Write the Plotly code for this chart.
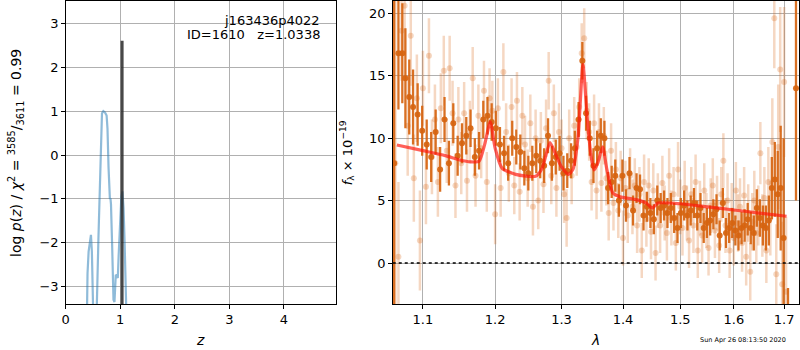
import numpy as np
import plotly.graph_objects as go

# ---------------- left panel: p(z) ----------------
pz_z = [0.38, 0.389, 0.40, 0.42, 0.445, 0.463, 0.48, 0.50, 0.511, 0.52,
        0.565, 0.571, 0.60, 0.63, 0.65, 0.665, 0.69, 0.72, 0.75, 0.766, 0.785, 0.797,
        0.81, 0.82, 0.83, 0.85, 0.876, 0.894, 0.905, 0.918, 0.935, 0.955, 0.97,
        1.00, 1.02, 1.04, 1.06, 1.08, 1.10, 1.12, 1.13]
pz_logp = [-4.5, -3.39, -2.7, -2.2, -1.95, -1.82, -2.2, -3.0, -3.39, -4.5,
           -4.5, -3.4, -1.9, -0.4, 0.6, 0.95, 1.0, 0.97, 0.9, 0.6, -0.27, -0.95,
           -1.0, -0.98, -1.12, -2.0, -3.3, -3.35, -3.1, -2.73, -2.75, -2.8, -2.3,
           -1.3, -0.95, -0.83, -1.2, -2.0, -3.0, -3.39, -4.5]
z_best = 1.0338
z_best_top = 2.6

# ---------------- right panel: spectrum ----------------
wave_a = [1.0625, 1.066, 1.068, 1.070, 1.073, 1.075, 1.077, 1.080, 1.082, 1.084, 1.087, 1.090,
          1.093, 1.096, 1.099, 1.102, 1.105, 1.108, 1.111, 1.114, 1.117, 1.120, 1.123, 1.126,
          1.129, 1.132, 1.135, 1.138, 1.141, 1.144, 1.147, 1.150, 1.153, 1.156, 1.159, 1.162,
          1.165, 1.168, 1.171, 1.174, 1.177, 1.180, 1.183, 1.186, 1.189, 1.192, 1.195, 1.198,
          1.201, 1.204, 1.207, 1.210, 1.213, 1.216, 1.219, 1.222, 1.225, 1.228, 1.231, 1.234,
          1.237, 1.240, 1.243, 1.246, 1.249, 1.252, 1.255, 1.258, 1.261, 1.264, 1.267, 1.270,
          1.273, 1.276, 1.279, 1.282, 1.285, 1.288, 1.291, 1.294, 1.297, 1.300, 1.303, 1.306,
          1.309, 1.312, 1.315, 1.318, 1.321, 1.324, 1.327, 1.330, 1.333, 1.336, 1.339, 1.342,
          1.345, 1.348, 1.351, 1.354, 1.357, 1.360, 1.363, 1.366, 1.369, 1.372, 1.375, 1.378,
          1.381, 1.384, 1.387, 1.390, 1.393, 1.396, 1.399, 1.402, 1.405, 1.408, 1.411, 1.414,
          1.417, 1.420, 1.423, 1.426, 1.429, 1.432, 1.435, 1.438, 1.441, 1.444, 1.447, 1.450,
          1.453, 1.456, 1.459, 1.462, 1.465, 1.468, 1.471, 1.474, 1.477, 1.480, 1.483, 1.486,
          1.489, 1.492, 1.495, 1.498, 1.501, 1.504, 1.507, 1.510, 1.513, 1.516, 1.519, 1.522,
          1.525, 1.528, 1.531, 1.534, 1.537, 1.540, 1.543, 1.546, 1.549, 1.552, 1.555, 1.558,
          1.561, 1.564, 1.567, 1.570, 1.573, 1.576, 1.579, 1.582, 1.585, 1.588, 1.591, 1.594,
          1.597, 1.600, 1.603, 1.606, 1.609, 1.612, 1.615, 1.618, 1.621, 1.624, 1.627, 1.630,
          1.633, 1.636, 1.639, 1.642, 1.645, 1.648, 1.651, 1.654, 1.657, 1.660, 1.663, 1.666,
          1.669, 1.672, 1.675, 1.678, 1.681, 1.684, 1.687, 1.690, 1.693, 1.696, 1.699, 1.705,
          1.708, 1.7245]
flux_a = [8.0, 0.9, 16.8, 13.9, 16.8, 12.7, 14.8, 13.1, 13.3, 7.7, 12.5, 10.8,
          11.9, 8.0, 10.6, 12.0, 9.5, 7.8, 8.5, 11.8, 10.5, 9.0, 7.5, 9.8,
          11.5, 10.0, 8.0, 9.5, 11.2, 10.0, 8.6, 10.8, 9.6, 11.0, 10.2, 9.0,
          10.8, 9.8, 8.5, 10.2, 9.0, 10.5, 11.5, 10.2, 11.8, 10.5, 11.3, 9.5,
          10.8, 8.2, 9.5, 10.2, 8.8, 9.8, 8.0, 9.2, 10.0, 8.5, 9.3, 7.8,
          8.9, 9.5, 7.6, 8.5, 7.2, 8.8, 8.0, 7.4, 8.6, 7.0, 8.2, 9.0,
          7.8, 9.5, 10.2, 9.0, 8.0, 9.6, 8.5, 7.6, 8.8, 8.2, 7.2, 8.0,
          7.4, 6.8, 8.2, 7.5, 9.2, 8.2, 11.5, 13.5, 16.2, 14.0, 12.0, 11.3,
          10.0, 8.8, 7.8, 8.5, 9.2, 8.6, 10.2, 9.5, 10.0, 8.0, 6.0, 7.2,
          6.5, 5.5, 7.0, 6.2, 5.0, 6.5, 7.0, 5.8, 4.6, 6.2, 7.2, 5.5,
          4.2, 5.6, 6.0, 4.6, 5.9, 4.8, 3.8, 5.2, 4.5, 5.5, 4.0, 4.8,
          3.5, 4.6, 5.0, 3.8, 4.4, 3.2, 4.6, 5.4, 4.0, 3.0, 4.4, 5.0,
          3.6, 4.2, 2.8, 4.8, 4.0, 3.3, 4.6, 5.2, 3.8, 2.6, 4.2, 3.4,
          4.8, 3.0, 3.8, 2.4, 4.4, 3.6, 2.8, 4.0, 3.2, 4.6, 3.4, 2.6,
          3.9, 3.0, 4.3, 3.3, 2.2, 3.6, 4.8, 3.0, 2.4, 3.8, 2.8, 1.8,
          3.2, 4.0, 2.6, 3.4, 2.2, 3.6, 2.8, 4.2, 3.0, 2.0, 3.5, 1.5,
          2.8, 3.8, 2.4, 3.2, 4.4, 2.6, 3.6, 5.6, 3.0, 4.0, 2.8, 4.6,
          3.4, 2.5, 6.0, 3.5, 6.7, 2.0, 5.5, 1.0, 6.0, 3.0, 2.0, 0.8,
          -6.0, 14.0]
err_a = [30.0, 5.3, 4.5, 5.0, 4.0, 3.5, 4.0, 3.5, 3.0, 3.5, 3.0, 2.5,
         2.5, 2.5, 2.0, 2.0, 2.0, 2.0, 2.0, 2.0, 1.8, 2.0, 1.8, 1.8,
         1.8, 1.8, 1.8, 1.6, 1.6, 1.6, 1.6, 1.6, 1.6, 1.5, 1.5, 1.5,
         1.5, 1.5, 1.5, 1.5, 1.5, 1.5, 1.5, 1.5, 1.5, 1.5, 1.5, 1.5,
         1.4, 1.4, 1.4, 1.4, 1.4, 1.4, 1.4, 1.4, 1.4, 1.4, 1.4, 1.4,
         1.4, 1.4, 1.4, 1.4, 1.4, 1.4, 1.4, 1.4, 1.4, 1.4, 1.4, 1.4,
         1.4, 1.4, 1.4, 1.4, 1.4, 1.4, 1.4, 1.4, 1.4, 1.4, 1.4, 1.4,
         1.4, 1.4, 1.4, 1.4, 1.4, 1.4, 1.4, 1.5, 1.5, 1.5, 1.4, 1.4,
         1.4, 1.4, 1.4, 1.4, 1.4, 1.4, 1.4, 1.4, 1.4, 1.3, 1.3, 1.3,
         1.3, 1.3, 1.3, 1.3, 1.3, 1.3, 1.3, 1.3, 1.3, 1.3, 1.3, 1.3,
         1.2, 1.2, 1.2, 1.2, 1.2, 1.2, 1.2, 1.2, 1.2, 1.2, 1.2, 1.2,
         1.2, 1.2, 1.2, 1.2, 1.2, 1.2, 1.2, 1.2, 1.2, 1.2, 1.2, 1.2,
         1.2, 1.2, 1.2, 1.2, 1.2, 1.2, 1.2, 1.2, 1.2, 1.2, 1.2, 1.2,
         1.2, 1.2, 1.2, 1.2, 1.2, 1.2, 1.2, 1.2, 1.2, 1.2, 1.2, 1.2,
         1.2, 1.2, 1.2, 1.2, 1.2, 1.2, 1.2, 1.2, 1.2, 1.2, 1.2, 1.2,
         1.2, 1.2, 1.2, 1.2, 1.2, 1.3, 1.3, 1.3, 1.3, 1.3, 1.3, 1.3,
         1.3, 1.4, 1.4, 1.4, 1.5, 1.5, 1.5, 1.6, 1.6, 1.7, 1.8, 1.9,
         2.0, 2.2, 2.5, 2.8, 3.0, 3.2, 3.5, 4.0, 5.0, 6.0, 8.0, 9.0,
         4.0, 9.0]

wave_b = [1.064, 1.068, 1.072, 1.076, 1.080, 1.084, 1.088, 1.092, 1.096, 1.100, 1.104, 1.108,
          1.112, 1.116, 1.120, 1.124, 1.128, 1.132, 1.136, 1.140, 1.144, 1.148, 1.152, 1.156,
          1.160, 1.164, 1.168, 1.172, 1.176, 1.180, 1.184, 1.188, 1.192, 1.196, 1.200, 1.204,
          1.208, 1.212, 1.216, 1.220, 1.224, 1.228, 1.232, 1.236, 1.240, 1.244, 1.248, 1.252,
          1.256, 1.260, 1.264, 1.268, 1.272, 1.276, 1.280, 1.284, 1.288, 1.292, 1.296, 1.300,
          1.304, 1.308, 1.312, 1.316, 1.320, 1.324, 1.328, 1.332, 1.336, 1.340, 1.344, 1.348,
          1.352, 1.356, 1.360, 1.364, 1.368, 1.372, 1.376, 1.380, 1.384, 1.388, 1.392, 1.396,
          1.400, 1.404, 1.408, 1.412, 1.416, 1.420, 1.424, 1.428, 1.432, 1.436, 1.440, 1.444,
          1.448, 1.452, 1.456, 1.460, 1.464, 1.468, 1.472, 1.476, 1.480, 1.484, 1.488, 1.492,
          1.496, 1.500, 1.504, 1.508, 1.512, 1.516, 1.520, 1.524, 1.528, 1.532, 1.536, 1.540,
          1.544, 1.548, 1.552, 1.556, 1.560, 1.564, 1.568, 1.572, 1.576, 1.580, 1.584, 1.588,
          1.592, 1.596, 1.600, 1.604, 1.608, 1.612, 1.616, 1.620, 1.624, 1.628, 1.632, 1.636,
          1.640, 1.644, 1.648, 1.652, 1.656, 1.660, 1.664, 1.668, 1.672, 1.676, 1.680, 1.684,
          1.688, 1.692, 1.696, 1.700, 1.704]
flux_b = [8.0, 0.5, 18.6, 20.6, 11.0, 18.2, 6.8, 13.2, 1.8, 14.0, 6.1, 16.6,
          8.5, 11.5, 6.5, 12.4, 15.4, 9.0, 15.6, 12.0, 6.2, 11.5, 8.0, 12.0,
          6.6, 10.5, 14.8, 7.0, 11.8, 9.2, 13.8, 6.5, 13.2, 12.2, 3.9, 12.4,
          6.0, 15.3, 10.5, 7.2, 12.5, 6.2, 13.0, 5.7, 11.8, 9.5, 6.8, 11.2,
          4.5, 10.0, 5.0, 9.8, 6.3, 10.8, 14.6, 7.0, 12.0, 6.0, 10.5, 9.2,
          5.5, 3.6, 10.0, 7.0, 11.0, 9.3, 12.5, 16.8, 18.0, 12.2, 10.5, 6.5,
          11.2, 5.8, 10.5, 6.4, 10.2, 6.8, 4.0, 9.0, 4.8, 7.5, 4.2, 6.8,
          2.0, 6.0, 3.8, 7.0, 4.5, 6.2, 3.0, 5.5, 1.0, 6.5, 3.5, 6.2,
          2.5, 5.8, 0.8, 5.0, 3.0, 6.4, 4.0, 2.4, 7.0, 3.6, 5.5, 1.6,
          7.5, 4.5, 2.8, 6.0, 4.0, 1.8, 5.5, 3.0, 6.5, 1.0, 4.4, 2.2,
          5.8, 3.4, 1.2, 4.6, 6.2, 2.6, 4.8, 1.4, 5.5, 8.2, 3.0, 5.0,
          1.0, 4.2, 2.0, 5.8, 3.2, 4.5, 1.6, 5.4, 0.5, 4.0, -0.7, 3.3,
          5.0, 2.4, 3.8, 8.8, 3.0, 5.2, 1.0, 6.5, 3.6, 9.7, 19.6, -0.9,
          9.3, 15.5, -1.7, 14.5, -2.3]
err_b = [30.0, 6.0, 4.0, 4.0, 4.0, 4.0, 3.5, 3.5, 4.0, 3.0, 3.0, 3.0,
         3.0, 2.8, 2.8, 2.8, 2.8, 2.6, 2.6, 2.6, 2.6, 2.6, 2.5, 2.5,
         2.5, 2.5, 2.5, 2.5, 2.5, 2.4, 2.4, 2.4, 2.4, 2.4, 2.4, 2.4,
         2.3, 2.3, 2.3, 2.3, 2.3, 2.3, 2.3, 2.3, 2.3, 2.3, 2.3, 2.3,
         2.3, 2.3, 2.3, 2.3, 2.3, 2.3, 2.3, 2.3, 2.3, 2.3, 2.3, 2.3,
         2.3, 2.3, 2.3, 2.3, 2.3, 2.3, 2.3, 2.4, 2.4, 2.3, 2.3, 2.3,
         2.3, 2.3, 2.3, 2.3, 2.3, 2.2, 2.2, 2.2, 2.2, 2.2, 2.2, 2.2,
         2.2, 2.2, 2.2, 2.2, 2.2, 2.2, 2.2, 2.2, 2.2, 2.2, 2.2, 2.2,
         2.2, 2.2, 2.2, 2.2, 2.2, 2.2, 2.2, 2.2, 2.2, 2.2, 2.2, 2.2,
         2.2, 2.2, 2.2, 2.2, 2.2, 2.2, 2.2, 2.2, 2.2, 2.2, 2.2, 2.2,
         2.2, 2.2, 2.2, 2.2, 2.2, 2.2, 2.2, 2.2, 2.2, 2.2, 2.2, 2.2,
         2.2, 2.2, 2.2, 2.3, 2.3, 2.3, 2.3, 2.3, 2.3, 2.3, 2.3, 2.3,
         2.4, 2.4, 2.4, 2.5, 2.5, 2.5, 2.6, 2.8, 3.0, 3.5, 4.0, 4.0,
         5.0, 5.0, 5.0, 6.0, 6.0]

model_wave = [1.066, 1.10, 1.13, 1.15, 1.165, 1.177, 1.185, 1.193, 1.20, 1.21, 1.23, 1.26,
              1.27, 1.282, 1.29, 1.30, 1.311, 1.318, 1.326, 1.334, 1.341, 1.347, 1.352, 1.358,
              1.366, 1.373, 1.383, 1.395, 1.42, 1.44, 1.45, 1.46, 1.50, 1.55, 1.60, 1.65, 1.705]
model_flux = [9.45, 9.0, 8.6, 8.25, 8.1, 8.15, 9.5, 11.3, 9.2, 7.6, 7.1, 6.95,
              7.6, 9.65, 8.8, 7.7, 7.1, 7.5, 10.0, 15.9, 11.5, 8.6, 7.45, 8.0,
              9.3, 7.5, 5.6, 5.3, 5.1, 4.8, 4.4, 4.8, 4.75, 4.5, 4.25, 4.0, 3.75]

z_ticks = [0, 1, 2, 3, 4]
logp_ticks = [-3, -2, -1, 0, 1, 2, 3]
wave_ticks = [1.1, 1.2, 1.3, 1.4, 1.5, 1.6, 1.7]
flux_ticks = [0, 5, 10, 15, 20]

W, H = 800, 350
def px(x):
    return x / W
def py(y):
    return 1 - y / H

FONT = "DejaVu Sans"
ORANGE = "rgba(214,100,16,0.92)"
ORANGE_L = "rgba(217,100,20,0.26)"

# the darker exposure is shown at every other sample (plus the two edge bars)
sel = list(range(0, len(wave_a) - 2, 2)) + [len(wave_a) - 2, len(wave_a) - 1]
wa = [wave_a[i] for i in sel]
fa = [flux_a[i] for i in sel]
ea = [err_a[i] for i in sel]

fig = go.Figure()

# p(z)
fig.add_trace(go.Scatter(x=pz_z, y=pz_logp, mode="lines",
                         line=dict(color="rgba(31,119,180,0.5)", width=2.2),
                         xaxis="x", yaxis="y", showlegend=False, hoverinfo="skip"))
fig.add_trace(go.Scatter(x=[z_best, z_best], y=[-10, z_best_top], mode="lines",
                         line=dict(color="rgba(40,40,40,0.85)", width=3),
                         xaxis="x", yaxis="y", showlegend=False, hoverinfo="skip"))

# spectrum
fig.add_trace(go.Scatter(x=wave_b, y=flux_b, mode="markers",
                         marker=dict(color=ORANGE_L, size=6),
                         error_y=dict(type="data", array=err_b, color=ORANGE_L, thickness=2.5, width=0),
                         xaxis="x2", yaxis="y2", showlegend=False, hoverinfo="skip"))
fig.add_trace(go.Scatter(x=wa, y=fa, mode="markers",
                         marker=dict(color=ORANGE, size=6),
                         error_y=dict(type="data", array=ea, color=ORANGE, thickness=2.3, width=0),
                         xaxis="x2", yaxis="y2", showlegend=False, hoverinfo="skip"))
fig.add_trace(go.Scatter(x=model_wave, y=model_flux, mode="lines",
                         line=dict(color="rgba(255,20,10,0.68)", width=3.2, shape="spline", smoothing=0.6),
                         xaxis="x2", yaxis="y2", showlegend=False, hoverinfo="skip"))

ax_common = dict(showline=True, linecolor="black", linewidth=1, mirror=True,
                 ticks="outside", ticklen=3.5, tickwidth=0.8, tickcolor="black",
                 showgrid=True, gridcolor="#b0b0b0", gridwidth=0.8, zeroline=False,
                 tickfont=dict(family=FONT, size=13, color="black"))

ydom = [py(304), py(1)]
fig.update_layout(
    width=W, height=H, autosize=False,
    margin=dict(l=0, r=0, t=0, b=0),
    paper_bgcolor="white", plot_bgcolor="white",
    xaxis=dict(domain=[px(62), px(334)], range=[0, 4.96], tickvals=z_ticks,
               anchor="y", **ax_common),
    yaxis=dict(domain=ydom, range=[-3.394, 3.508], tickvals=logp_ticks,
               anchor="x", **ax_common),
    xaxis2=dict(domain=[px(390.7), px(799.3)], type="log",
                range=[np.log10(1.0607), np.log10(1.7314)],
                tickvals=wave_ticks, ticktext=[f"{v:.1f}" for v in wave_ticks],
                anchor="y2", **ax_common),
    yaxis2=dict(domain=ydom, range=[-3.28, 20.985], tickvals=flux_ticks,
                anchor="x2", **ax_common),
)

# zero line
fig.add_shape(type="line", xref="x2 domain", yref="y2", x0=0, x1=1, y0=0, y1=0,
              line=dict(color="black", width=1.6, dash="dot"))

annots = [
    dict(x=px(320), y=py(20), text="j163436p4022", xanchor="right", yanchor="middle", size=13),
    dict(x=px(320), y=py(35), text="ID=1610\u00a0\u00a0\u00a0z=1.0338", xanchor="right", yanchor="middle", size=13),
    dict(x=px(197), y=py(340), text="<i>z</i>", xanchor="center", yanchor="middle", size=14),
    dict(x=px(594), y=py(340), text="<i>λ</i>", xanchor="center", yanchor="middle", size=14),
    dict(x=px(788), y=py(340), text="Sun Apr 26 08:13:50 2020", xanchor="right", yanchor="middle", size=6.5),
]
for a in annots:
    fig.add_annotation(x=a["x"], y=a["y"], xref="paper", yref="paper", text=a["text"],
                       showarrow=False, xanchor=a["xanchor"], yanchor=a["yanchor"],
                       font=dict(family=FONT, size=a["size"], color="black"))

fig.add_annotation(x=px(12), y=py(153), xref="paper", yref="paper",
                   text="log <i>p</i>(<i>z</i>) / <i>χ</i><sup>2</sup> = <sup>3585</sup>/<sub>3611</sub> = 0.99",
                   textangle=-90, showarrow=False, xanchor="center", yanchor="middle",
                   font=dict(family=FONT, size=14, color="black"))
fig.add_annotation(x=px(345), y=py(153), xref="paper", yref="paper",
                   text="<i>f</i><sub>λ</sub> × 10<sup>−19</sup>",
                   textangle=-90, showarrow=False, xanchor="center", yanchor="middle",
                   font=dict(family=FONT, size=13, color="black"))

fig.write_html("out.html", config={"displayModeBar": False},
               post_script="document.body.style.margin='0';document.body.style.overflow='hidden';")
